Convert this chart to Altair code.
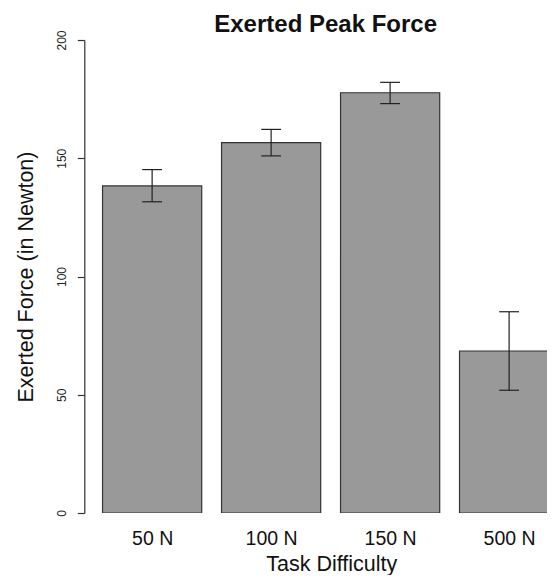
import altair as alt
import pandas as pd

categories = ["50 N", "100 N", "150 N", "500 N"]
means = [138.3, 156.6, 177.7, 68.5]
lower = [131.6, 151.0, 173.1, 51.9]
upper = [145.2, 162.2, 182.1, 85.1]
y_ticks = [0, 50, 100, 150, 200]

df = pd.DataFrame({
    "cat": categories,
    "mean": means,
    "lo": lower,
    "hi": upper,
    "idx": list(range(len(categories))),
})

FONT = "Liberation Sans"
centers = [0.7 + 1.2 * i for i in range(len(categories))]
label_expr = "[" + ",".join("'%s'" % c for c in categories) + "][round((datum.value - 0.7) / 1.2)]"

xs = alt.Scale(domain=[0.016, 4.682], nice=False, zero=False)
ys = alt.Scale(domain=[0, 200], nice=False, zero=False)

base = alt.Chart(df).transform_calculate(
    left="0.2 + 1.2 * datum.idx",
    right="1.2 + 1.2 * datum.idx",
    mid="0.7 + 1.2 * datum.idx",
    capl="0.6 + 1.2 * datum.idx",
    capr="0.8 + 1.2 * datum.idx",
)

x_axis = alt.Axis(
    values=centers, labelExpr=label_expr, ticks=False, domain=False, grid=False,
    labelFont=FONT, labelFontSize=19.5, labelColor="#111", labelBaseline="alphabetic",
    labelPadding=31, labelFlush=False, labelOverlap=False,
    title="Task Difficulty", titleFont=FONT, titleFontSize=21.5, titleFontWeight="normal",
    titleColor="#111", titleBaseline="alphabetic", titleAlign="center", titleY=57, titleX=247,
)
y_axis = alt.Axis(
    values=y_ticks, grid=False, tickSize=7, tickColor="#333", domainColor="#333",
    tickWidth=1.2, domainWidth=1.2,
    labelFont=FONT, labelFontSize=12, labelColor="#222", labelAngle=270,
    labelAlign="center", labelBaseline="alphabetic", labelPadding=12, labelFlush=False,
    title="Exerted Force (in Newton)", titleFont=FONT, titleFontSize=21.5,
    titleFontWeight="normal", titleColor="#111", titleAngle=270, titleAlign="center",
    titleBaseline="alphabetic", titleX=-52, titleY=236.5,
)

bars = base.mark_bar(fill="#999999", stroke="#333333", strokeWidth=1.2, clip=True).encode(
    x=alt.X("left:Q", scale=xs, axis=x_axis),
    x2="right:Q",
    y=alt.Y("mean:Q", scale=ys, axis=y_axis),
    y2=alt.datum(0),
)
err = base.mark_rule(color="#222", strokeWidth=1.2).encode(
    x=alt.X("mid:Q", scale=xs, axis=x_axis),
    y=alt.Y("lo:Q", scale=ys, axis=y_axis),
    y2="hi:Q",
)
cap_hi = base.mark_rule(color="#222", strokeWidth=1.2).encode(
    x=alt.X("capl:Q", scale=xs, axis=x_axis),
    x2="capr:Q",
    y=alt.Y("hi:Q", scale=ys, axis=y_axis),
)
cap_lo = base.mark_rule(color="#222", strokeWidth=1.2).encode(
    x=alt.X("capl:Q", scale=xs, axis=x_axis),
    x2="capr:Q",
    y=alt.Y("lo:Q", scale=ys, axis=y_axis),
)

chart = alt.layer(bars, err, cap_hi, cap_lo).properties(
    width=462.7,
    height=473,
    title=alt.TitleParams(
        "Exerted Peak Force", font=FONT, fontSize=24, fontWeight="bold", color="#111",
        anchor="middle", baseline="alphabetic", offset=8, dx=10, dy=34, frame="group",
    ),
    autosize=alt.AutoSizeParams(type="none"),
    padding={"left": 76.3, "top": 32, "right": 0, "bottom": 62},
).configure(background="white").configure_view(strokeWidth=0)

chart.save("out.html", embed_options={"renderer": "svg", "actions": False})
